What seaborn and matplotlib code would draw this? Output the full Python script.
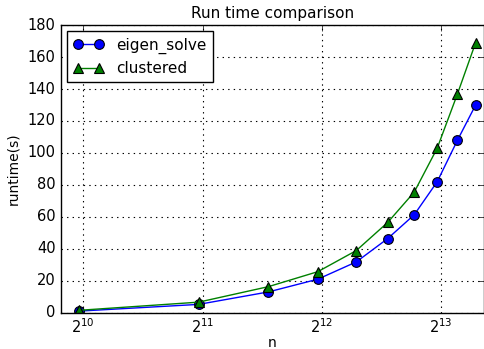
import numpy as np
import pandas as pd
import matplotlib
matplotlib.use("Agg")
import matplotlib.pyplot as plt
from matplotlib.ticker import FixedLocator, FixedFormatter, NullLocator
import seaborn as sns

n_values = [1000, 2000, 3000, 4000, 5000, 6000, 7000, 8000, 9000, 10000]
eigen_solve = [1.0, 5.2, 13.0, 21.0, 31.8, 46.4, 61.3, 82.0, 108.0, 130.0]
clustered = [1.5, 6.6, 16.3, 25.7, 38.9, 56.5, 75.5, 103.0, 137.0, 169.0]
x_ticks = [2 ** 10, 2 ** 11, 2 ** 12, 2 ** 13]
x_tick_labels = [r"$2^{10}$", r"$2^{11}$", r"$2^{12}$", r"$2^{13}$"]

df = pd.DataFrame({
    "n": n_values * 2,
    "runtime": eigen_solve + clustered,
    "method": ["eigen_solve"] * len(n_values) + ["clustered"] * len(n_values),
})

plt.style.use("classic")
sns.set_style("white")
plt.rcParams["font.family"] = ["DejaVu Sans"]
plt.rcParams["mathtext.fontset"] = "dejavusans"
plt.rcParams["mathtext.default"] = "regular"
plt.rcParams["text.color"] = "black"
plt.rcParams["axes.labelcolor"] = "black"
plt.rcParams["xtick.color"] = "black"
plt.rcParams["ytick.color"] = "black"

fig = plt.figure(figsize=(4.85, 3.49), dpi=100, facecolor="white")
ax = fig.add_axes([0.126, 0.104, 0.872, 0.824])

sns.lineplot(
    data=df, x="n", y="runtime", hue="method", style="method",
    palette={"eigen_solve": "blue", "clustered": "green"},
    markers={"eigen_solve": "o", "clustered": "^"},
    dashes=False, markersize=7, markeredgecolor="black", markeredgewidth=0.8,
    linewidth=1.0, ax=ax,
)

ax.set_xscale("log", base=2)
ax.set_xlim(900, 10500)
ax.set_ylim(0, 180)
ax.xaxis.set_major_locator(FixedLocator(x_ticks))
ax.xaxis.set_major_formatter(FixedFormatter(x_tick_labels))
ax.xaxis.set_minor_locator(NullLocator())
ax.set_yticks(range(0, 181, 20))

ax.grid(True, color="black", linestyle=":", linewidth=0.8)
ax.tick_params(direction="in", top=True, right=True, length=4, labelsize=10.5,
               colors="black")
ax.tick_params(axis="x", labelsize=10.5, pad=3)
for s in ax.spines.values():
    s.set_color("black")
    s.set_linewidth(1.0)

ax.set_title("Run time comparison", fontsize=11, color="black")
ax.set_xlabel("n", fontsize=10, labelpad=0, color="black")
ax.set_ylabel("runtime(s)", fontsize=10, color="black")

leg = ax.legend(loc="upper left", fontsize=11, frameon=True, fancybox=False,
                edgecolor="black", framealpha=1, borderaxespad=0.4,
                handlelength=2.0)
leg.get_frame().set_linewidth(1.0)
for t in leg.get_texts():
    t.set_color("black")

fig.savefig("out.png", dpi=100, facecolor="white")
